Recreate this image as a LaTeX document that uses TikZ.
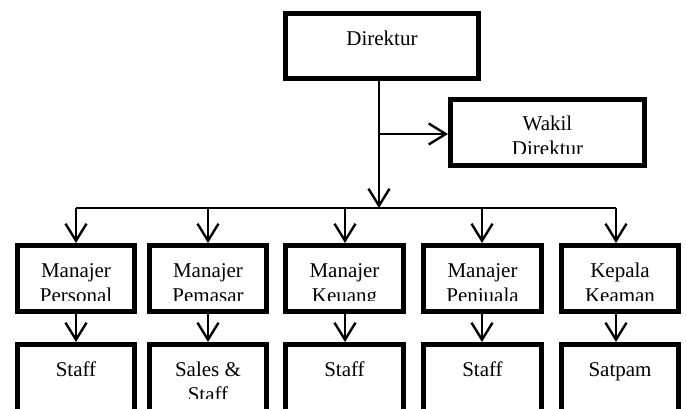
\documentclass[tikz,border=0pt]{standalone}
\usepackage{fontspec}
\setmainfont{Liberation Serif}
\usetikzlibrary{arrows.meta}
\tikzset{
  obox/.style={draw, line width=5pt, inner sep=0pt, rectangle},
  conn/.style={line width=1.8pt, -{Straight Barb[length=17pt,width=21pt,line width=2.4pt]}},
  plain/.style={line width=1.8pt},
  lbl/.style={font=\fontsize{21}{25}\selectfont, anchor=base, inner sep=0pt},
}
\begin{document}
\begin{tikzpicture}[x=1pt,y=-1pt]
\clip (0,0) rectangle (686,409);
\fill[white] (0,0) rectangle (686,409);

% boxes
\node[obox, minimum width=193pt, minimum height=65pt] (dir) at (382,46) {};
\node[obox, minimum width=194pt, minimum height=66pt] (wak) at (547.5,132.5) {};

\node[obox, minimum width=117pt, minimum height=66pt] (m1) at (76,278.5) {};
\node[obox, minimum width=117pt, minimum height=66pt] (m2) at (208,278.5) {};
\node[obox, minimum width=118pt, minimum height=66pt] (m3) at (344.5,278.5) {};
\node[obox, minimum width=118pt, minimum height=66pt] (m4) at (482.5,278.5) {};
\node[obox, minimum width=117pt, minimum height=66pt] (m5) at (620,278.5) {};

\node[obox, minimum width=117pt, minimum height=83pt] (s1) at (76,386) {};
\node[obox, minimum width=117pt, minimum height=83pt] (s2) at (208,386) {};
\node[obox, minimum width=118pt, minimum height=83pt] (s3) at (344.5,386) {};
\node[obox, minimum width=118pt, minimum height=83pt] (s4) at (482.5,386) {};
\node[obox, minimum width=117pt, minimum height=83pt] (s5) at (620,386) {};

% texts
\node[lbl] (tdir) at (382,45.5) {Direktur};
\begin{scope}
  \clip (450,99) rectangle (645,153.5);
  \node[lbl] (twak1) at (547.5,130.5) {Wakil};
  \node[lbl] (twak2) at (547.5,155.5) {Direktur};
\end{scope}
\begin{scope}
  \clip (0,245) rectangle (686,300.5);
  \node[lbl] (tm1a) at (76,277.5) {Manajer};
  \node[lbl] (tm1b) at (76,302.5) {Personal};
  \node[lbl] (tm2a) at (208,277.5) {Manajer};
  \node[lbl] (tm2b) at (208,302.5) {Pemasar};
  \node[lbl] (tm3a) at (344.5,277.5) {Manajer};
  \node[lbl] (tm3b) at (344.5,302.5) {Keuang};
  \node[lbl] (tm4a) at (482.5,277.5) {Manajer};
  \node[lbl] (tm4b) at (482.5,302.5) {Penjuala};
  \node[lbl] (tm5a) at (620,277.5) {Kepala};
  \node[lbl] (tm5b) at (620,302.5) {Keaman};
\end{scope}
\begin{scope}
  \clip (0,345) rectangle (686,398.5);
  \node[lbl] (ts1) at (76,376.5) {Staff};
  \node[lbl] (ts2a) at (208,376.5) {Sales \&};
  \node[lbl] (ts2b) at (208,401.5) {Staff};
  \node[lbl] (ts3) at (344.5,376.5) {Staff};
  \node[lbl] (ts4) at (482.5,376.5) {Staff};
  \node[lbl] (ts5) at (620,376.5) {Satpam};
\end{scope}

% connectors
\coordinate (trunk) at (379,0);
\coordinate (bus) at (379,208);
\coordinate (br) at (379,134);
\coordinate (c1) at (76,208);
\coordinate (c2) at (208,208);
\coordinate (c3) at (345,208);
\coordinate (c4) at (482,208);
\coordinate (c5) at (616,208);

\draw[conn] (dir.south -| trunk) -- (bus);
\draw[conn] (br) -- (br -| wak.west);
\draw[plain] (c1) -- (c5);
\foreach \i in {1,...,5} {
  \draw[conn] (c\i) -- (c\i |- m\i.north);
  \draw[conn] (c\i |- m\i.south) -- (c\i |- s\i.north);
}
\end{tikzpicture}
\end{document}
